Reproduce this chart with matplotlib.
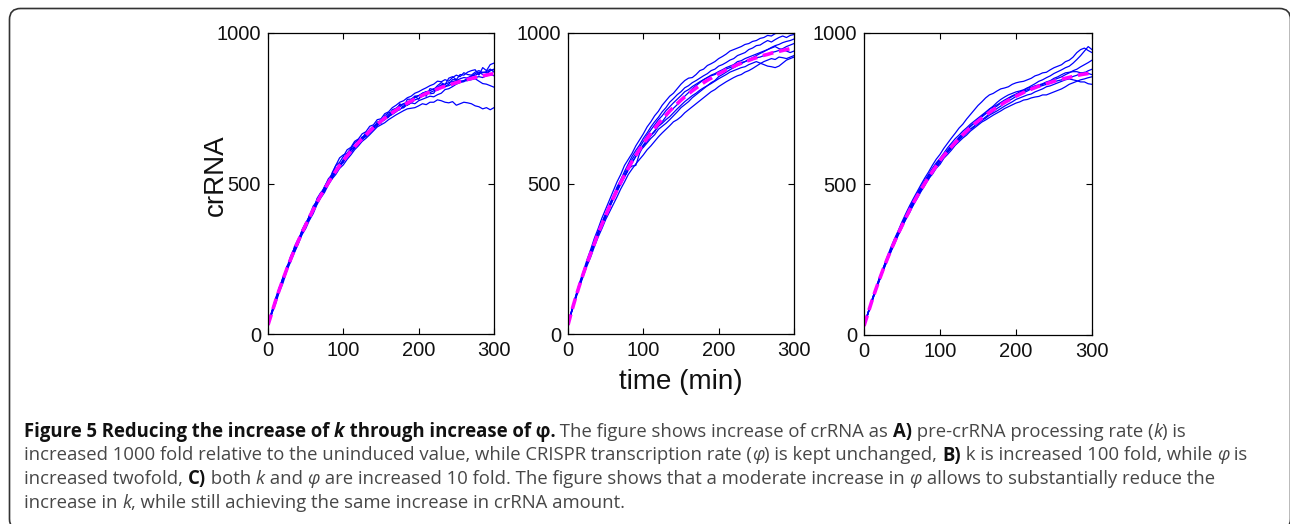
import matplotlib
matplotlib.use('Agg')
import matplotlib.pyplot as plt
from matplotlib.patches import FancyBboxPatch
from matplotlib.transforms import IdentityTransform

# 时间轴 (min), 每5分钟一个点
t = list(range(0, 301, 5))

# 平均值 (品红虚线)
mean_a = [30, 70, 110, 147, 182, 216, 248, 279, 308, 336, 362, 388, 413, 437, 460, 481, 502, 522, 541, 559,
          576, 592, 607, 622, 636, 649, 662, 674, 686, 697, 707, 717, 726, 735, 744, 752, 760, 767, 774, 781,
          787, 793, 799, 804, 809, 814, 819, 823, 827, 831, 835, 839, 842, 846, 849, 852, 855, 858, 860, 863, 865]
mean_b = [30, 77, 120, 160, 198, 234, 267, 300, 335, 364, 393, 423, 451, 478, 503, 528, 551, 573, 593, 613,
          632, 650, 667, 683, 699, 713, 727, 741, 753, 765, 777, 788, 798, 808, 817, 826, 835, 843, 850, 858,
          865, 871, 878, 884, 889, 895, 900, 905, 909, 914, 918, 922, 926, 929, 933, 936, 939, 942, 945, 948, 950]
mean_c = [30, 70, 110, 147, 182, 216, 248, 279, 308, 336, 362, 388, 413, 437, 460, 481, 502, 522, 541, 559,
          578, 594, 608, 623, 637, 650, 663, 675, 687, 698, 708, 718, 728, 737, 746, 754, 762, 770, 777, 784,
          791, 797, 803, 809, 814, 819, 824, 828, 832, 836, 840, 844, 847, 850, 853, 856, 859, 862, 864, 866, 868]

# 随机模拟轨迹 (蓝线)
runs_a = [
    [28, 72, 105, 150, 190, 212, 255, 285, 300, 345, 370, 380, 420, 445, 455, 490, 510, 515, 548, 565,
     570, 600, 615, 618, 640, 655, 655, 680, 690, 700, 712, 715, 720, 745, 750, 760, 765, 762, 770, 790,
     792, 800, 805, 798, 800, 820, 825, 822, 830, 845, 845, 838, 838, 852, 855, 865, 870, 862, 862, 875, 880],
    [30, 75, 118, 155, 178, 225, 240, 290, 315, 335, 355, 395, 405, 450, 470, 478, 498, 535, 560, 585,
     595, 600, 615, 635, 645, 650, 670, 672, 680, 705, 700, 725, 735, 738, 740, 765, 752, 780, 780, 790,
     780, 800, 790, 815, 812, 825, 835, 828, 850, 855, 845, 862, 860, 870, 875, 878, 860, 885, 875, 895, 900],
    [32, 68, 100, 140, 170, 210, 240, 270, 298, 330, 350, 378, 400, 430, 452, 470, 495, 515, 530, 550,
     562, 580, 595, 612, 625, 640, 650, 662, 675, 688, 695, 702, 712, 720, 728, 735, 742, 748, 750, 752,
     758, 765, 762, 770, 770, 778, 775, 770, 768, 772, 760, 765, 770, 768, 765, 758, 755, 748, 752, 745, 752],
    [30, 70, 112, 145, 185, 218, 250, 275, 305, 340, 365, 390, 418, 435, 462, 485, 500, 525, 545, 552,
     580, 598, 612, 620, 642, 652, 665, 668, 690, 695, 708, 712, 725, 730, 742, 745, 758, 760, 768, 765,
     775, 780, 785, 790, 788, 795, 800, 812, 815, 822, 830, 835, 840, 842, 845, 848, 840, 832, 830, 825, 820],
    [29, 72, 115, 152, 188, 220, 258, 285, 312, 342, 368, 392, 425, 440, 468, 488, 515, 530, 560, 570,
     590, 612, 620, 640, 648, 665, 672, 690, 695, 712, 715, 732, 738, 752, 760, 770, 775, 785, 790, 800,
     805, 812, 818, 825, 830, 840, 838, 845, 840, 852, 860, 855, 868, 862, 860, 870, 875, 868, 872, 880, 870],
    [31, 66, 108, 142, 180, 212, 245, 272, 302, 330, 358, 385, 410, 432, 458, 475, 500, 518, 538, 555,
     572, 588, 602, 618, 630, 645, 658, 668, 682, 692, 704, 712, 722, 730, 738, 748, 752, 762, 768, 778,
     782, 790, 795, 802, 808, 810, 818, 822, 825, 832, 835, 840, 842, 848, 850, 852, 855, 852, 858, 862, 858],
    [30, 74, 108, 150, 186, 214, 252, 282, 305, 338, 360, 390, 415, 440, 458, 482, 505, 520, 542, 562,
     578, 590, 610, 625, 635, 652, 660, 678, 688, 698, 710, 718, 730, 735, 748, 755, 765, 770, 778, 785,
     792, 798, 805, 808, 815, 818, 828, 830, 835, 838, 842, 848, 852, 850, 858, 860, 865, 870, 868, 875, 878],
]
runs_b = [
    [30, 80, 125, 168, 205, 245, 280, 318, 350, 385, 415, 445, 475, 505, 530, 560, 580, 600, 625, 645,
     665, 688, 705, 725, 740, 760, 775, 790, 800, 815, 830, 842, 850, 852, 862, 875, 880, 892, 898, 905,
     915, 922, 930, 940, 945, 950, 955, 962, 965, 972, 975, 982, 985, 992, 990, 998, 1000, 1005, 1010, 1005, 1010],
    [28, 78, 122, 162, 200, 238, 272, 305, 340, 370, 400, 430, 458, 488, 512, 540, 565, 590, 610, 628,
     650, 668, 688, 705, 720, 738, 752, 770, 782, 795, 805, 818, 825, 835, 842, 850, 858, 865, 875, 880,
     890, 895, 902, 910, 915, 925, 930, 935, 945, 950, 958, 960, 968, 975, 970, 978, 985, 990, 985, 992, 995],
    [32, 74, 115, 155, 190, 225, 255, 290, 322, 350, 380, 405, 430, 455, 482, 505, 530, 548, 565, 580,
     595, 612, 625, 640, 655, 668, 680, 692, 705, 712, 722, 735, 745, 755, 765, 775, 785, 795, 805, 812,
     822, 830, 838, 845, 852, 858, 862, 870, 875, 882, 890, 898, 905, 910, 915, 912, 920, 918, 915, 920, 925],
    [30, 76, 120, 158, 196, 232, 268, 302, 330, 368, 395, 420, 448, 480, 505, 525, 548, 558, 560, 600,
     625, 640, 660, 672, 692, 705, 722, 738, 750, 762, 775, 790, 802, 815, 825, 835, 845, 852, 860, 865,
     872, 878, 885, 890, 895, 905, 908, 915, 920, 925, 930, 935, 940, 945, 952, 958, 962, 968, 972, 975, 980],
    [29, 77, 118, 162, 198, 235, 265, 298, 338, 360, 388, 425, 450, 475, 500, 522, 545, 570, 590, 608,
     620, 635, 650, 662, 680, 690, 700, 712, 725, 738, 752, 762, 772, 785, 795, 805, 815, 825, 835, 842,
     855, 862, 870, 878, 885, 892, 898, 905, 912, 918, 925, 932, 938, 945, 950, 955, 948, 945, 940, 935, 940],
    [31, 78, 122, 160, 202, 236, 270, 305, 336, 368, 398, 428, 455, 482, 510, 532, 558, 580, 600, 620,
     640, 660, 678, 695, 712, 725, 742, 755, 768, 780, 792, 805, 812, 822, 830, 838, 845, 852, 858, 862,
     870, 875, 880, 885, 890, 898, 902, 905, 910, 912, 918, 920, 925, 930, 935, 938, 942, 948, 955, 960, 965],
    [30, 76, 119, 158, 195, 230, 265, 298, 332, 362, 390, 420, 448, 472, 498, 522, 545, 568, 590, 608,
     628, 645, 660, 675, 690, 700, 712, 722, 735, 748, 760, 772, 782, 792, 800, 810, 818, 825, 832, 840,
     848, 855, 862, 870, 875, 880, 885, 888, 895, 900, 905, 900, 895, 890, 888, 885, 890, 900, 910, 915, 920],
]
runs_c = [
    [30, 72, 112, 150, 188, 220, 255, 288, 318, 345, 375, 402, 428, 452, 475, 498, 520, 540, 562, 582,
     598, 618, 635, 652, 668, 685, 698, 715, 730, 745, 760, 772, 785, 795, 800, 808, 815, 818, 822, 830,
     835, 838, 840, 845, 850, 858, 862, 868, 870, 878, 885, 890, 895, 905, 910, 920, 935, 945, 950, 942, 935],
    [28, 68, 108, 142, 180, 210, 245, 272, 305, 332, 360, 382, 410, 430, 458, 478, 500, 515, 540, 555,
     572, 588, 605, 618, 632, 645, 658, 668, 680, 690, 700, 710, 718, 728, 735, 742, 750, 758, 765, 772,
     780, 785, 790, 795, 798, 805, 810, 815, 822, 825, 830, 835, 840, 845, 848, 845, 842, 838, 838, 832, 830],
    [32, 71, 110, 148, 184, 218, 250, 282, 310, 340, 366, 390, 418, 440, 465, 485, 508, 525, 548, 565,
     582, 598, 612, 628, 640, 655, 668, 680, 692, 702, 712, 722, 732, 740, 750, 758, 768, 775, 782, 790,
     795, 802, 808, 812, 818, 822, 825, 830, 835, 840, 845, 850, 855, 862, 868, 875, 880, 888, 895, 902, 910],
    [30, 69, 106, 145, 178, 212, 242, 275, 300, 330, 355, 385, 405, 432, 452, 475, 495, 518, 532, 552,
     565, 585, 598, 612, 628, 640, 652, 662, 675, 685, 695, 705, 712, 720, 728, 735, 742, 750, 756, 762,
     768, 772, 778, 780, 785, 788, 790, 795, 795, 800, 805, 810, 815, 822, 830, 835, 840, 845, 848, 852, 855],
    [29, 70, 111, 150, 183, 220, 249, 280, 312, 338, 364, 392, 415, 442, 462, 485, 505, 528, 545, 565,
     580, 596, 610, 625, 638, 652, 665, 678, 690, 702, 712, 725, 735, 748, 758, 770, 780, 788, 795, 800,
     805, 808, 812, 818, 820, 825, 828, 832, 838, 842, 850, 855, 862, 868, 870, 872, 872, 868, 868, 875, 880],
    [31, 70, 109, 146, 181, 215, 247, 276, 306, 335, 360, 386, 412, 436, 458, 480, 498, 520, 538, 558,
     575, 590, 605, 620, 635, 648, 660, 672, 682, 692, 702, 712, 722, 732, 740, 750, 758, 768, 775, 782,
     790, 795, 802, 808, 815, 818, 822, 826, 830, 834, 838, 842, 845, 848, 852, 856, 860, 866, 870, 866, 862],
    [30, 71, 113, 149, 186, 217, 252, 283, 314, 342, 370, 395, 420, 446, 470, 490, 512, 532, 552, 570,
     585, 602, 620, 635, 650, 662, 675, 686, 698, 708, 718, 728, 738, 748, 755, 762, 770, 778, 785, 792,
     798, 805, 810, 818, 825, 832, 840, 845, 852, 858, 866, 872, 878, 885, 890, 900, 912, 925, 940, 955, 945],
]

x_ticks = [0, 100, 200, 300]
y_ticks = [0, 500, 1000]

W, H = 1290, 524
fig = plt.figure(figsize=(W / 100, H / 100), dpi=100)
fig.patch.set_facecolor('white')

tick_font = 'Liberation Sans'


def px_axes(left, top, right, bottom):
    return [left / W, (H - bottom) / H, (right - left) / W, (bottom - top) / H]


panels = [
    (px_axes(268, 33, 494, 334), runs_a, mean_a),
    (px_axes(568, 33, 794, 334), runs_b, mean_b),
    (px_axes(864, 33, 1092, 335), runs_c, mean_c),
]

for rect, runs, mean in panels:
    ax = fig.add_axes(rect)
    for r in runs:
        ax.plot(t, r, color='#0000ff', lw=0.9)
    ax.plot(t, mean, color='#ff00ff', lw=2.6, dashes=(3, 1.6))
    ax.set_xlim(0, 300)
    ax.set_ylim(0, 1000)
    ax.set_xticks(x_ticks)
    ax.set_yticks(y_ticks)
    ax.tick_params(direction='in', length=4, width=0.8, top=True, right=True,
                   labelsize=14.5, pad=5)
    for lab in ax.get_xticklabels() + ax.get_yticklabels():
        lab.set_family(tick_font)
        lab.set_color('#111111')
    for sp in ax.spines.values():
        sp.set_linewidth(0.9)

# 坐标轴标题
fig.text(216 / W, 1 - 175 / H, 'crRNA', rotation=90, ha='center', va='center',
         fontsize=20, family=tick_font, color='#111111')
fig.text(681 / W, 1 - 382 / H, 'time (min)', ha='center', va='center',
         fontsize=20, family=tick_font, color='#111111')

# 圆角边框
box = FancyBboxPatch((9.5, -6), 1281, H - 8 + 6 - 0.5,
                     boxstyle='round,pad=0,rounding_size=11',
                     transform=IdentityTransform(), fill=False,
                     edgecolor='#333333', lw=1.2)
fig.patches.append(box)

# 图注, 分段绘制以混合粗体/斜体
cap_font = ['Open Sans', 'DejaVu Sans']
N, B, I, BI = ('normal', 'normal'), ('bold', 'normal'), ('normal', 'italic'), ('bold', 'italic')
cap_lines = [
    [('Figure 5 Reducing the increase of ', B), ('k', BI), (' through increase of φ.', B),
     (' The figure shows increase of crRNA as ', N), ('A)', B),
     (' pre-crRNA processing rate (', N), ('k', I), (') is', N)],
    [('increased 1000 fold relative to the uninduced value, while CRISPR transcription rate (', N),
     ('φ', I), (') is kept unchanged, ', N), ('B)', B), (' k is increased 100 fold, while ', N),
     ('φ', I), (' is', N)],
    [('increased twofold, ', N), ('C)', B), (' both ', N), ('k', I), (' and ', N), ('φ', I),
     (' are increased 10 fold. The figure shows that a moderate increase in ', N), ('φ', I),
     (' allows to substantially reduce the', N)],
    [('increase in ', N), ('k', I), (', while still achieving the same increase in crRNA amount.', N)],
]
cap_x = 24
cap_base = [437, 460.5, 484, 507.5]

renderer = fig.canvas.get_renderer()


def draw_line(segs, x0, y0, size):
    x = x0
    for s, (w, st) in segs:
        txt = fig.text(x, H - y0, s, transform=IdentityTransform(), fontsize=size,
                       family=cap_font, weight=w, style=st, va='baseline',
                       color='#111111' if w == 'bold' else '#474747')
        x += txt.get_window_extent(renderer).width
    return x


# 以第二行宽度拟合字号
probe = draw_line(cap_lines[1], cap_x, -100, 10) - cap_x
for tx in list(fig.texts):
    if tx.get_position()[1] == H + 100:
        tx.remove()
cap_size = 10 * (1250 - cap_x) / probe

for segs, yb in zip(cap_lines, cap_base):
    draw_line(segs, cap_x, yb, cap_size)

fig.savefig('out.png', dpi=100)
